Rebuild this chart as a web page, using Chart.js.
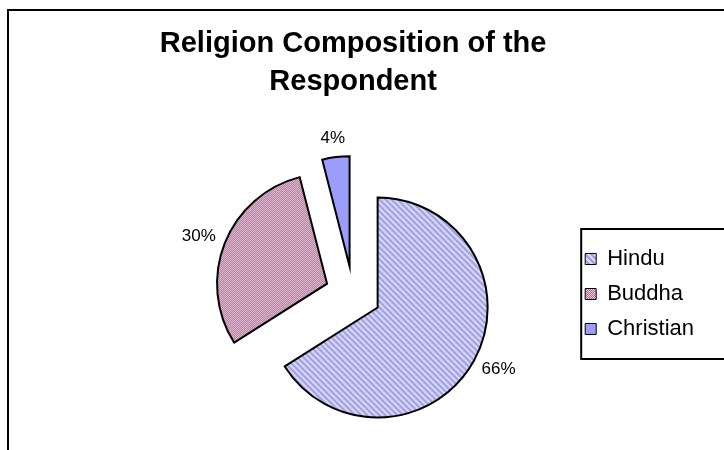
<!DOCTYPE html>
<html><head><meta charset="utf-8">
<script src="https://cdn.jsdelivr.net/npm/chart.js@4.4.1/dist/chart.umd.min.js"></script>
<style>
html,body{margin:0;padding:0;background:#fff;overflow:hidden;width:724px;height:450px;}
#frame{position:absolute;left:7px;top:9px;width:800px;height:600px;border:2px solid #000;box-sizing:border-box;}
#wrap{position:absolute;left:0;top:0;width:724px;height:450px;}
</style></head><body>
<div id="frame"></div>
<div id="wrap"><canvas id="c" width="724" height="450"></canvas></div>
<script>
const categories = ['Hindu', 'Buddha', 'Christian'];
const shares = [66, 30, 4];
const titleLines = ['Religion Composition of the', 'Respondent'];

const FONT = '"Liberation Sans", Arial, sans-serif';
const EXPLODE = 28;

function makePattern(size, painter) {
  const c = document.createElement('canvas');
  c.width = size; c.height = size;
  const g = c.getContext('2d');
  for (let y = 0; y < size; y++) for (let x = 0; x < size; x++) {
    g.fillStyle = painter(x, y);
    g.fillRect(x, y, 1, 1);
  }
  return document.getElementById('c').getContext('2d').createPattern(c, 'repeat');
}
const hinduFill = makePattern(6, (x, y) => ((((x - y) % 6) + 6) % 6) < 3 ? '#9f9fd8' : '#dadaff');
const buddhaFill = makePattern(2, (x, y) => ((x + y) % 2) ? '#a66f92' : '#eacbdf');
const christianFill = '#9c9cfa';

const explodePlugin = {
  id: 'explode',
  beforeDatasetDraw(chart, args) {
    const ctx = chart.ctx;
    args.meta.data.forEach(arc => {
      const mid = (arc.startAngle + arc.endAngle) / 2;
      ctx.save();
      ctx.translate(Math.cos(mid) * EXPLODE, Math.sin(mid) * EXPLODE);
      arc.draw(ctx, chart.chartArea);
      ctx.restore();
    });
    return false;
  }
};

const pctPlugin = {
  id: 'pct',
  afterDatasetsDraw(chart) {
    const meta = chart.getDatasetMeta(0);
    const ctx = chart.ctx;
    ctx.save();
    ctx.font = '17px ' + FONT;
    ctx.fillStyle = '#000';
    ctx.textAlign = 'center';
    ctx.textBaseline = 'middle';
    meta.data.forEach((arc, i) => {
      const mid = (arc.startAngle + arc.endAngle) / 2;
      const dx = Math.cos(mid), dy = Math.sin(mid);
      const text = shares[i] + '%';
      const w = ctx.measureText(text).width, h = 16;
      const d = EXPLODE + arc.outerRadius + 11;
      ctx.fillText(text, arc.x + dx * d + dx * w / 2, arc.y + dy * d + dy * h / 2);
    });
    ctx.restore();
  }
};

const legendBoxPlugin = {
  id: 'legendBox',
  afterDraw(chart) {
    const hb = chart.legend && chart.legend.legendHitBoxes;
    if (!hb || !hb.length) return;
    const ctx = chart.ctx;
    const first = hb[0], last = hb[hb.length - 1];
    const x = first.left - 4;
    const y = first.top + first.height / 2 - 30;
    const y2 = last.top + last.height / 2 + 30;
    ctx.save();
    ctx.strokeStyle = '#000';
    ctx.lineWidth = 2;
    ctx.strokeRect(x, y, chart.width - x + 20, y2 - y);
    ctx.restore();
  }
};

const baseGen = (Chart.overrides.pie || Chart.overrides.doughnut).plugins.legend.labels.generateLabels;

new Chart(document.getElementById('c'), {
  type: 'pie',
  data: {
    labels: categories,
    datasets: [{
      data: shares,
      backgroundColor: [hinduFill, buddhaFill, christianFill],
      borderColor: '#000',
      borderWidth: 2,
      borderJoinStyle: 'miter'
    }]
  },
  options: {
    responsive: false,
    animation: false,
    devicePixelRatio: 1,
    radius: 110,
    layout: { padding: { left: 134, right: 20, top: 0, bottom: 0 } },
    plugins: {
      tooltip: { enabled: false },
      title: {
        display: true,
        text: titleLines,
        fullSize: false,
        color: '#000',
        font: { family: FONT, size: 29, weight: 'bold', lineHeight: 1.31 },
        padding: { top: 25, bottom: 37 }
      },
      legend: {
        position: 'right',
        fullSize: false,
        labels: {
          color: '#000',
          font: { family: FONT, size: 22 },
          boxWidth: 11,
          boxHeight: 11,
          padding: 13,
          generateLabels(chart) {
            const items = baseGen(chart);
            items.forEach(it => { it.lineWidth = 1; it.strokeStyle = '#000'; });
            return items;
          }
        }
      }
    }
  },
  plugins: [explodePlugin, pctPlugin, legendBoxPlugin]
});
</script>
</body></html>
